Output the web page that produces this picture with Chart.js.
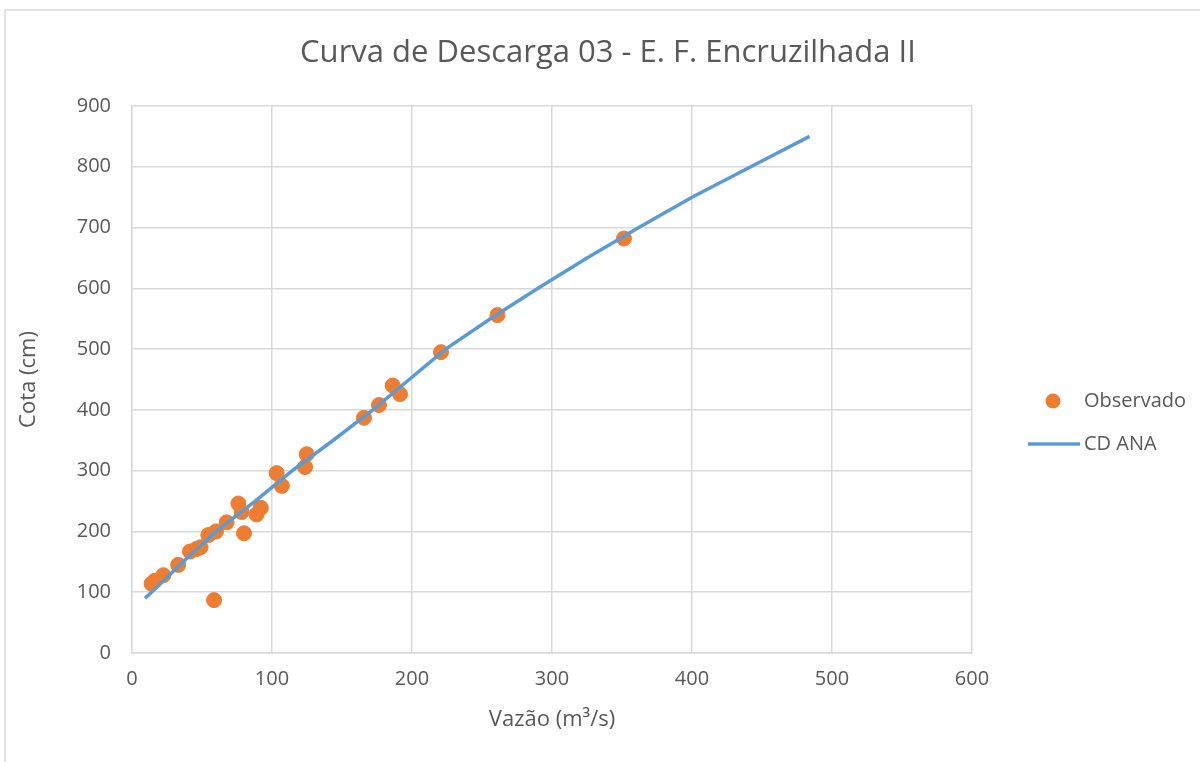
<!DOCTYPE html>
<html>
<head>
<meta charset="utf-8">
<script src="https://cdn.jsdelivr.net/npm/chart.js@4/dist/chart.umd.min.js"></script>
<style>
  html, body { margin: 0; padding: 0; background: #fff; }
  #wrap { width: 1200px; height: 762px; }
</style>
</head>
<body>
<div id="wrap"><canvas id="myChart" width="1200" height="762"></canvas></div>
<script>
// dados observados (vazão m3/s, cota cm)
const obsVazao = [14, 16.5, 22.4, 33, 41.4, 46, 49, 54.5, 60, 67.6, 76, 78.3, 80, 89, 92, 58.6,
                  103.3, 107, 124.8, 123.6, 165.7, 176.4, 186.2, 191.4, 220.7, 261, 351.4];
const obsCota  = [114, 119, 128, 145, 167, 171, 174, 194, 200, 215, 246, 232, 197, 228, 239, 87,
                  296, 275, 327, 306, 387, 408, 440, 426, 495, 556, 682];

// curva de descarga ANA
const cdVazao = [9.3, 13.9, 36.5, 60, 88, 114.5, 143.8, 172, 198, 224, 256, 290, 325, 362, 400, 442, 484];
const cdCota  = [90, 100, 150, 200, 250, 300, 350, 400, 450, 500, 550, 600, 650, 700, 750, 800, 850];

const xTicks = [0, 100, 200, 300, 400, 500, 600];
const yTicks = [0, 100, 200, 300, 400, 500, 600, 700, 800, 900];

const chartTitle = 'Curva de Descarga 03 - E. F. Encruzilhada II';

const txt = '#595959';
const grid = '#D9D9D9';
const fam = "'Open Sans', sans-serif";

const pts = (xs, ys) => xs.map((x, i) => ({ x: x, y: ys[i] }));

const frame = {
  id: 'frame',
  beforeDraw(chart) {
    const c = chart.ctx;
    c.save();
    c.fillStyle = '#fff';
    c.fillRect(0, 0, chart.width, chart.height);
    c.strokeStyle = grid;
    c.lineWidth = 1.5;
    c.strokeRect(5, 10, 1300, 900);
    c.restore();
  }
};

// title centred on the whole canvas, legend to the right of the plot
const extras = {
  id: 'extras',
  afterDraw(chart) {
    const c = chart.ctx;
    c.save();
    c.fillStyle = txt;
    c.textAlign = 'center';
    c.textBaseline = 'middle';
    c.font = '31px ' + fam;
    c.fillText(chartTitle, 608, 53);

    c.textAlign = 'left';
    c.font = '20px ' + fam;
    chart.data.datasets.forEach((ds, i) => {
      const y = 401 + i * 43;
      if (ds.showLine) {
        c.strokeStyle = ds.borderColor;
        c.lineWidth = 3.5;
        c.beginPath();
        c.moveTo(1028, y);
        c.lineTo(1080, y);
        c.stroke();
      } else {
        c.fillStyle = ds.backgroundColor;
        c.beginPath();
        c.arc(1053, y, 7.5, 0, Math.PI * 2);
        c.fill();
      }
      c.fillStyle = txt;
      c.fillText(ds.label, 1084, y);
    });
    c.restore();
  }
};

new Chart(document.getElementById('myChart'), {
  type: 'scatter',
  data: {
    datasets: [{
      label: 'Observado',
      data: pts(obsVazao, obsCota),
      backgroundColor: '#ED7D31',
      borderColor: '#ED7D31',
      pointRadius: 7.5,
      pointHoverRadius: 7.5,
      order: 1
    }, {
      label: 'CD ANA',
      data: pts(cdVazao, cdCota),
      showLine: true,
      borderColor: '#5B9BD5',
      backgroundColor: '#5B9BD5',
      borderWidth: 3.5,
      pointRadius: 0,
      tension: 0,
      order: 0
    }]
  },
  options: {
    responsive: false,
    animation: false,
    layout: { padding: { left: 10, right: 228, top: 106, bottom: 20 } },
    plugins: {
      legend: { display: false },
      tooltip: { enabled: false },
      title: { display: false }
    },
    scales: {
      x: {
        type: 'linear',
        min: xTicks[0],
        max: xTicks[xTicks.length - 1],
        afterBuildTicks: s => { s.ticks = xTicks.map(v => ({ value: v })); },
        afterFit: s => { s.height = 89; },
        grid: { color: grid, lineWidth: 1.5, drawTicks: false },
        border: { display: true, color: grid, width: 1.5 },
        ticks: { color: txt, font: { family: fam, size: 20 }, padding: 14 },
        title: {
          display: true, text: 'Vazão (m³/s)', color: txt,
          font: { family: fam, size: 22 }, padding: { top: 4, bottom: 9 }
        }
      },
      y: {
        type: 'linear',
        min: yTicks[0],
        max: yTicks[yTicks.length - 1],
        afterBuildTicks: s => { s.ticks = yTicks.map(v => ({ value: v })); },
        afterFit: s => { s.width = 122; },
        grid: { color: grid, lineWidth: 1.5, drawTicks: false },
        border: { display: true, color: grid, width: 1.5 },
        ticks: { color: txt, font: { family: fam, size: 20 }, padding: 21 },
        title: {
          display: true, text: 'Cota (cm)', color: txt,
          font: { family: fam, size: 22 }, padding: { top: 6, bottom: 4 }
        }
      }
    }
  },
  plugins: [frame, extras]
});
</script>
</body>
</html>
